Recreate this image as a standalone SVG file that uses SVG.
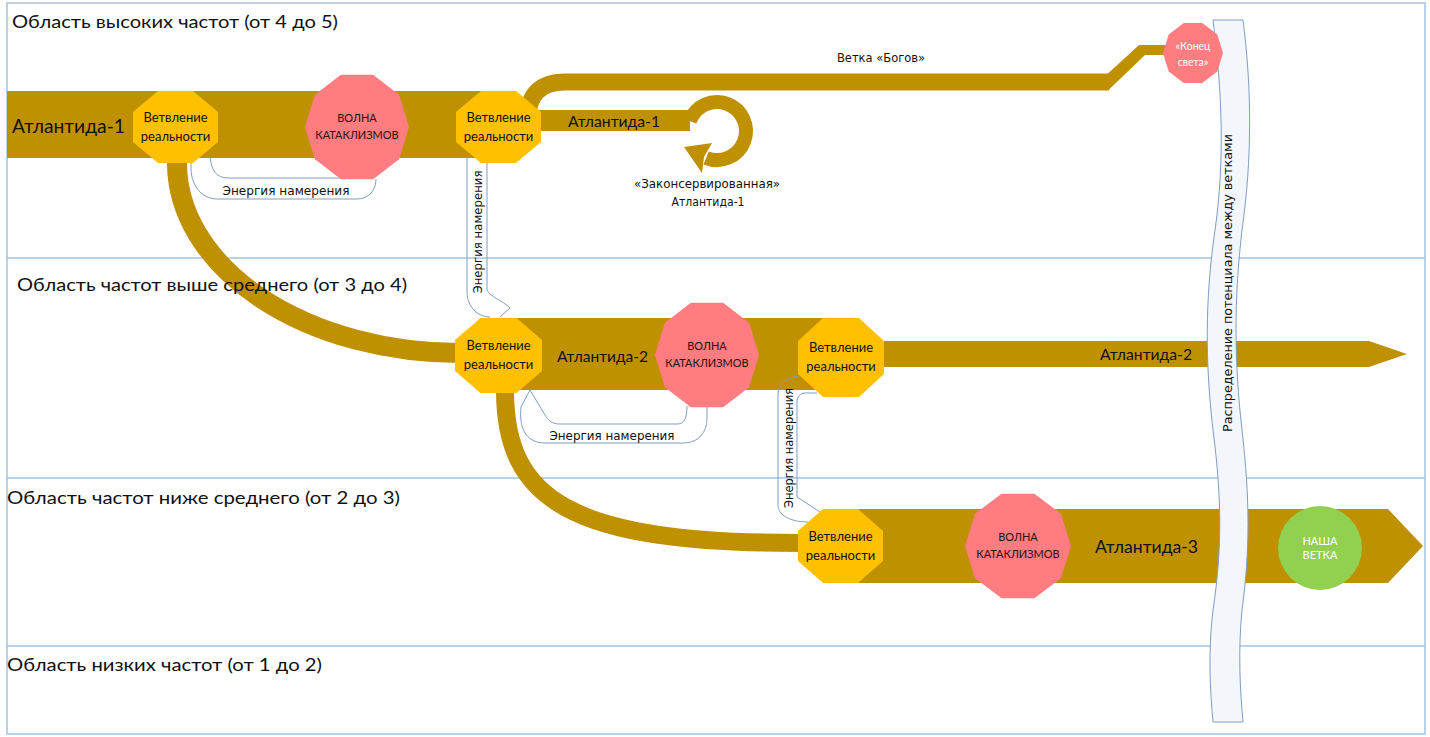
<svg xmlns="http://www.w3.org/2000/svg" width="1430" height="737" viewBox="0 0 1430 737">
<style>
.lane{fill:none;stroke:#A4C2E0;stroke-width:1.5}
.band{fill:#BF9000}
.bs{fill:none;stroke:#BF9000;stroke-linecap:butt}
.oct{fill:#FFC000}
.dec{fill:#FF7C80}
.nrg{fill:none;stroke:#7F9DC4;stroke-width:1}
.t{font-family:Lato,"Noto Sans",sans-serif;fill:#111}
.s{font-family:"DejaVu Sans","Liberation Sans",sans-serif;fill:#111}
.on{font-family:Lato,"Noto Sans",sans-serif;font-size:13px;fill:#111;text-anchor:middle}
.dn{font-family:Lato,"Noto Sans",sans-serif;font-size:11px;fill:#2a1010;text-anchor:middle}
.wn{font-family:Lato,"Noto Sans",sans-serif;fill:#fff;text-anchor:middle}
</style>
<rect width="1430" height="737" fill="#fff"/>
<g id="lanes">
<rect class="lane" x="7" y="3" width="1418" height="731"/>
<line class="lane" x1="7" y1="258" x2="1425" y2="258"/>
<line class="lane" x1="7" y1="478" x2="1425" y2="478"/>
<line class="lane" x1="7" y1="646" x2="1425" y2="646"/>
</g>
<g id="connectors">
<rect class="band" x="7" y="91" width="496" height="67"/>
<path class="bs" stroke-width="20" d="M177,150 L177,163 A283,190 0 0 0 460,353 L485,353"/>
<path class="bs" stroke-width="17" d="M528,118 C528,95 540,82 565,82 L1109,82"/>
<polygon class="band" points="1108,73.5 1139,45 1172,45 1172,55 1145,55 1108,90.5"/>
<rect class="band" x="530" y="110" width="160" height="21"/>
<path class="bs" stroke-width="14" d="M689.75,121.1 A29,29 0 1 1 706.1,157.9"/>
<polygon class="band" points="684,147 712,143 704,157 702,173"/>
<rect class="band" x="480" y="318" width="360" height="72"/>
<polygon class="band" points="870,341 1369,341 1407,354 1369,367 870,367"/>
<path class="bs" stroke-width="18" d="M505,385 L505,390 C505,500 570,543 800,543 L820,543"/>
<polygon class="band" points="840,509 1388,509 1423,546 1388,583 840,583"/>
<g id="energy">
<path class="nrg" d="M192,158 C188,175 195,199 218,199 L357,199 C369,199 376,190 376,179 M210,158 C212,170 216,178 228,178 L341,178"/>
<path class="nrg" d="M467,158 L467,292 C467,306 477,317 490,317 M487,158 L487,290 C490,297 502,300 510,308 L500,317"/>
<path class="nrg" d="M530,390 L521,407 C519,425 524,443 545,443 L683,443 C698,443 707,433 707,418 L707,406 M530,390 L545,415 C549,421 552,424 560,424 L677,424 C684,424 687,419 687,406"/>
<path class="nrg" d="M798,376 C785,378 778,385 778,395 L778,505 C778,515 790,522 808,522 M817,393 L805,393 C800,393 797,397 797,402 L797,497 L820,512"/>
<text class="s" x="286" y="195" font-size="11.5" text-anchor="middle" textLength="127" lengthAdjust="spacingAndGlyphs">Энергия намерения</text>
<text class="s" x="612" y="440" font-size="11.5" text-anchor="middle" textLength="125" lengthAdjust="spacingAndGlyphs">Энергия намерения</text>
<text class="s" transform="translate(482,232) rotate(-90)" font-size="11.5" text-anchor="middle" textLength="123" lengthAdjust="spacingAndGlyphs">Энергия намерения</text>
<text class="s" transform="translate(793,448) rotate(-90)" font-size="11.5" text-anchor="middle" textLength="120" lengthAdjust="spacingAndGlyphs">Энергия намерения</text>
</g>
</g>
<g id="lane-labels">
<text class="t" x="12" y="28" font-size="18" textLength="326" lengthAdjust="spacingAndGlyphs">Область высоких частот (от 4 до 5)</text>
<text class="t" x="17" y="291" font-size="18" textLength="390" lengthAdjust="spacingAndGlyphs">Область частот выше среднего (от 3 до 4)</text>
<text class="t" x="7" y="504" font-size="18" textLength="393" lengthAdjust="spacingAndGlyphs">Область частот ниже среднего (от 2 до 3)</text>
<text class="t" x="7" y="671" font-size="18" textLength="315" lengthAdjust="spacingAndGlyphs">Область низких частот (от 1 до 2)</text>
</g>
<g id="band-labels">
<text class="t" x="12" y="133" font-size="20" textLength="113" lengthAdjust="spacingAndGlyphs">Атлантида-1</text>
<text class="t" x="568" y="127" font-size="16" textLength="92" lengthAdjust="spacingAndGlyphs">Атлантида-1</text>
<text class="t" x="557" y="362" font-size="16" textLength="91" lengthAdjust="spacingAndGlyphs">Атлантида-2</text>
<text class="t" x="1100" y="360" font-size="15" textLength="92" lengthAdjust="spacingAndGlyphs">Атлантида-2</text>
<text class="t" x="1095" y="553" font-size="18" textLength="103" lengthAdjust="spacingAndGlyphs">Атлантида-3</text>
<text class="s" x="881" y="62" font-size="12" text-anchor="middle" textLength="88" lengthAdjust="spacingAndGlyphs">Ветка «Богов»</text>
<text class="s" x="707" y="188" font-size="12" text-anchor="middle" textLength="146" lengthAdjust="spacingAndGlyphs">«Законсервированная»</text>
<text class="s" x="708" y="206" font-size="12" text-anchor="middle" textLength="73" lengthAdjust="spacingAndGlyphs">Атлантида-1</text>
</g>
<g id="potential">
<path fill="#F3F6FB" stroke="#7F9DC4" stroke-width="1" d="M1213,20 C1222,90 1225,160 1215,230 C1205,300 1205,360 1213,430 C1222,500 1222,550 1213,610 C1208,650 1210,690 1213,722 L1243,722 C1240,690 1238,650 1242,610 C1250,550 1250,500 1242,430 C1234,360 1234,300 1242,230 C1252,160 1252,90 1243,20 Z"/>
<text class="s" transform="translate(1232,283) rotate(-90)" font-size="12.5" text-anchor="middle" textLength="298" lengthAdjust="spacingAndGlyphs">Распределение потенциала между ветками</text>
</g>
<g id="node-branch1">
<polygon class="oct" points="158,91 193,91 218,112 218,142 193,163 158,163 133,142 133,112"/>
<text class="on" x="175.5" y="122">Ветвление</text><text class="on" x="175.5" y="141">реальности</text>
</g>
<g id="node-wave1">
<polygon class="dec" points="409,127 399.1,159.3 373.1,179.3 340.9,179.3 314.9,159.3 305,127 314.9,94.7 340.9,74.7 373.1,74.7 399.1,94.7"/>
<text class="dn" x="357" y="122">ВОЛНА</text><text class="dn" x="357" y="139">КАТАКЛИЗМОВ</text>
</g>
<g id="node-branch2">
<polygon class="oct" points="481,91 516,91 541,112 541,142 516,163 481,163 456,142 456,112"/>
<text class="on" x="498.5" y="122">Ветвление</text><text class="on" x="498.5" y="141">реальности</text>
</g>
<g id="node-end">
<polygon class="dec" points="1223,53 1217.3,71.5 1202.3,83 1183.7,83 1168.7,71.5 1163,53 1168.7,34.5 1183.7,23 1202.3,23 1217.3,34.5"/>
<text class="wn" x="1193" y="50" font-size="10.5">«Конец</text><text class="wn" x="1193" y="66" font-size="10.5">света»</text>
</g>
<g id="node-branch3">
<polygon class="oct" points="480.5,318 516.5,318 542,340 542,371 516.5,393 480.5,393 455,371 455,340"/>
<text class="on" x="498.5" y="350">Ветвление</text><text class="on" x="498.5" y="369">реальности</text>
</g>
<g id="node-wave2">
<polygon class="dec" points="759,355 749.1,387.3 723.1,407.3 690.9,407.3 664.9,387.3 655,355 664.9,322.7 690.9,302.7 723.1,302.7 749.1,322.7"/>
<text class="dn" x="707" y="350">ВОЛНА</text><text class="dn" x="707" y="367">КАТАКЛИЗМОВ</text>
</g>
<g id="node-branch4">
<polygon class="oct" points="823,318 859,318 884,341 884,374 859,397 823,397 798,374 798,341"/>
<text class="on" x="841" y="352">Ветвление</text><text class="on" x="841" y="371">реальности</text>
</g>
<g id="node-branch5">
<polygon class="oct" points="823,509 858,509 883,531 883,561 858,583 823,583 798,561 798,531"/>
<text class="on" x="840.5" y="541">Ветвление</text><text class="on" x="840.5" y="560">реальности</text>
</g>
<g id="node-wave3">
<polygon class="dec" points="1071,546 1060.9,578.3 1034.4,598.3 1001.6,598.3 975.1,578.3 965,546 975.1,513.7 1001.6,493.7 1034.4,493.7 1060.9,513.7"/>
<text class="dn" x="1018" y="541">ВОЛНА</text><text class="dn" x="1018" y="558">КАТАКЛИЗМОВ</text>
</g>
<g id="node-ours">
<ellipse cx="1320" cy="548" rx="42" ry="42" fill="#92D050"/>
<text class="wn" x="1320" y="545" font-size="11">НАША</text><text class="wn" x="1320" y="559" font-size="11">ВЕТКА</text>
</g>
</svg>
